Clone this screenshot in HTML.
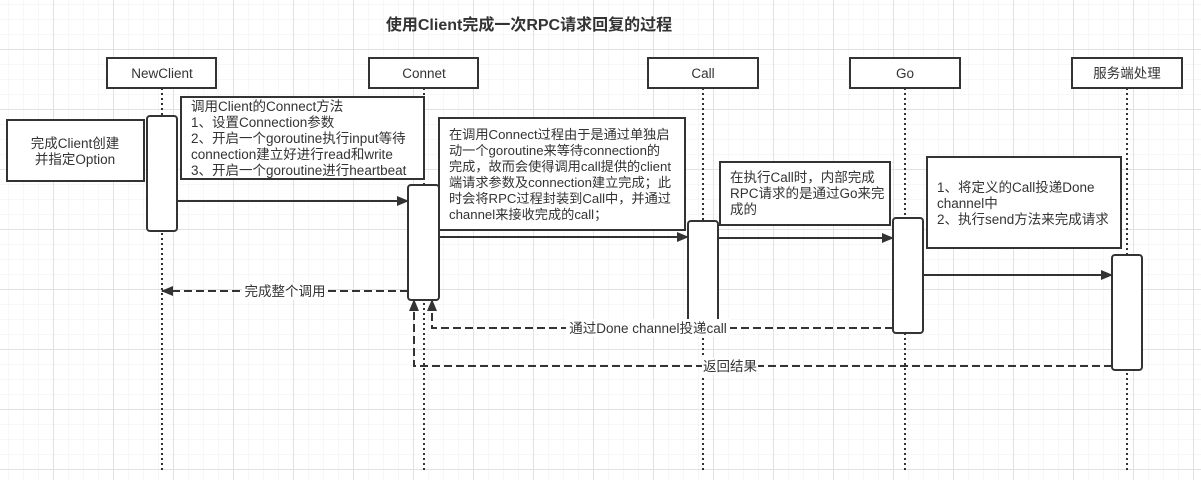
<!DOCTYPE html>
<html><head><meta charset="utf-8"><style>
html,body{margin:0;padding:0;background:#fff;}
svg{display:block;}
text{font-family:"Liberation Sans","Noto Sans CJK SC",sans-serif;fill:#333;}
</style></head><body>
<svg width="1201" height="480" viewBox="0 0 1201 480" xmlns="http://www.w3.org/2000/svg">
<defs>
<pattern id="g" x="8" y="4" width="15" height="15" patternUnits="userSpaceOnUse">
<path d="M0 0H15M0 0V15" stroke="#efefef" stroke-width="1" fill="none"/>
</pattern>
<pattern id="G" x="53" y="49" width="60" height="60" patternUnits="userSpaceOnUse">
<path d="M0 0.5H60M0.5 0V60" stroke="#e2e2e2" stroke-width="1" fill="none"/>
</pattern>
<marker id="a" markerWidth="12" markerHeight="10" refX="11" refY="5" orient="auto" markerUnits="userSpaceOnUse">
<path d="M0 0L12 5L0 10Z" fill="#333"/>
</marker>
</defs>
<rect width="1201" height="480" fill="url(#g)"/>
<rect width="1201" height="480" fill="url(#G)"/>

<text x="529" y="30" text-anchor="middle" font-size="16" font-weight="bold">使用Client完成一次RPC请求回复的过程</text>

<!-- lifelines -->
<g stroke="#333" stroke-width="2" stroke-dasharray="2,3">
<line x1="162" y1="88" x2="162" y2="470"/>
<line x1="424" y1="88" x2="424" y2="470"/>
<line x1="703" y1="88" x2="703" y2="470"/>
<line x1="905" y1="88" x2="905" y2="470"/>
<line x1="1127" y1="88" x2="1127" y2="470"/>
</g>

<!-- headers -->
<g stroke="#333" stroke-width="2" fill="#fff">
<rect x="107" y="58" width="109" height="30"/>
<rect x="369" y="58" width="109" height="30"/>
<rect x="648" y="58" width="110" height="30"/>
<rect x="850" y="58" width="110" height="30"/>
<rect x="1072" y="58" width="110" height="30"/>
</g>
<g font-size="13.5" text-anchor="middle">
<text x="162" y="78">NewClient</text>
<text x="424" y="78">Connet</text>
<text x="703" y="78">Call</text>
<text x="905" y="78">Go</text>
<text x="1127" y="78">服务端处理</text>
</g>

<!-- notes -->
<g stroke="#333" stroke-width="2" fill="#fff">
<rect x="7" y="120" width="137" height="61"/>
<rect x="181" y="97" width="243" height="82"/>
<rect x="439" y="118" width="246" height="112"/>
<rect x="720" y="162" width="170" height="63"/>
<rect x="927" y="157" width="194" height="91"/>
</g>
<g font-size="13.5">
<text x="75" y="148" text-anchor="middle">完成Client创建</text>
<text x="75" y="164" text-anchor="middle">并指定Option</text>
<text x="191" y="111">调用Client的Connect方法</text>
<text x="191" y="127">1、设置Connection参数</text>
<text x="191" y="143">2、开启一个goroutine执行input等待</text>
<text x="191" y="159">connection建立好进行read和write</text>
<text x="191" y="175">3、开启一个goroutine进行heartbeat</text>
<text x="730" y="182">在执行Call时，内部完成</text>
<text x="730" y="198">RPC请求的是通过Go来完</text>
<text x="730" y="214">成的</text>
<text x="937" y="192">1、将定义的Call投递Done</text>
<text x="937" y="208">channel中</text>
<text x="937" y="224">2、执行send方法来完成请求</text>
</g>
<g font-size="13.2">
<text x="449" y="139">在调用Connect过程由于是通过单独启</text>
<text x="449" y="155">动一个goroutine来等待connection的</text>
<text x="449" y="171">完成，故而会使得调用call提供的client</text>
<text x="449" y="187">端请求参数及connection建立完成；此</text>
<text x="449" y="203">时会将RPC过程封装到Call中，并通过</text>
<text x="449" y="219">channel来接收完成的call；</text>
</g>

<!-- activations -->
<g stroke="#333" stroke-width="2" fill="#fff">
<rect x="147" y="116" width="30" height="115" rx="3"/>
<rect x="408" y="185" width="31" height="115" rx="3"/>
<rect x="688" y="221" width="30" height="105" rx="3"/>
<rect x="893" y="218" width="30" height="115" rx="3"/>
<rect x="1112" y="255" width="30" height="115" rx="3"/>
</g>

<!-- solid arrows -->
<g stroke="#333" stroke-width="2" fill="none" marker-end="url(#a)">
<line x1="177" y1="201" x2="408" y2="201"/>
<line x1="439" y1="237" x2="688" y2="237"/>
<line x1="718" y1="238" x2="893" y2="238"/>
<line x1="923" y1="275" x2="1112" y2="275"/>
</g>

<!-- dashed returns -->
<g stroke="#333" stroke-width="2" fill="none" stroke-dasharray="8,4" marker-end="url(#a)">
<line x1="408" y1="291" x2="162" y2="291"/>
<polyline points="893,328 432,328 432,300"/>
<polyline points="1112,366 414,366 414,300"/>
</g>
<g font-size="13.5" text-anchor="middle">
<rect x="242" y="283" width="86" height="17" fill="#fff"/>
<text x="285" y="296">完成整个调用</text>
<rect x="566" y="319" width="164" height="18" fill="#fff"/>
<text x="648" y="333">通过Done channel投递call</text>
<rect x="702" y="358" width="56" height="17" fill="#fff"/>
<text x="730" y="371">返回结果</text>
</g>
</svg>
</body></html>
